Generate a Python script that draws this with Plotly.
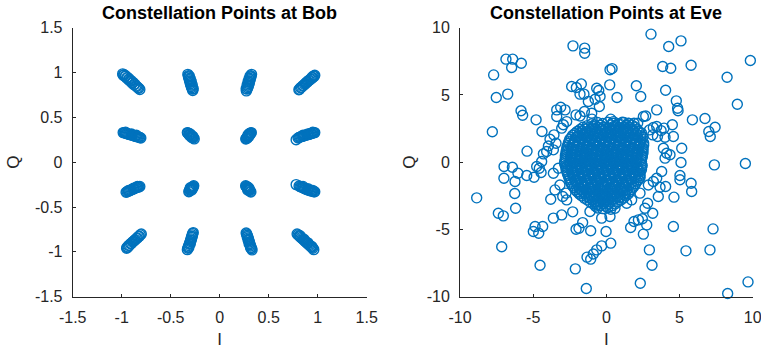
import plotly.graph_objects as go

# ---------------- Bob constellation (I, Q) ----------------
bob_points = [
    # top-left streak
    (-0.99,0.985),(-0.985,0.97),(-0.975,0.975),(-0.965,0.955),(-0.96,0.965),(-0.95,0.94),(-0.94,0.945),
    (-0.93,0.92),(-0.925,0.93),(-0.915,0.905),(-0.905,0.91),(-0.895,0.885),(-0.885,0.89),(-0.875,0.865),
    (-0.865,0.87),(-0.855,0.85),(-0.845,0.845),(-0.835,0.83),(-0.825,0.825),(-0.815,0.81),
    # top, second column
    (-0.325,0.98),(-0.32,0.965),(-0.318,0.95),(-0.313,0.935),(-0.31,0.92),(-0.305,0.905),(-0.302,0.89),
    (-0.298,0.875),(-0.295,0.86),(-0.29,0.845),(-0.285,0.83),(-0.28,0.815),(-0.275,0.80),(-0.31,0.96),
    (-0.30,0.93),(-0.29,0.90),(-0.28,0.86),(-0.27,0.82),
    # top, third column
    (0.325,0.98),(0.32,0.965),(0.318,0.95),(0.313,0.935),(0.31,0.92),(0.305,0.905),(0.302,0.89),
    (0.298,0.875),(0.295,0.86),(0.29,0.845),(0.285,0.83),(0.28,0.815),(0.272,0.795),(0.31,0.96),
    (0.30,0.93),(0.29,0.90),(0.28,0.86),(0.27,0.82),
    # top-right streak
    (0.97,0.97),(0.965,0.96),(0.955,0.96),(0.95,0.945),(0.94,0.945),(0.935,0.93),(0.925,0.925),
    (0.915,0.915),(0.905,0.91),(0.895,0.895),(0.885,0.89),(0.875,0.875),(0.865,0.87),(0.855,0.855),
    (0.845,0.85),(0.835,0.835),(0.825,0.83),(0.815,0.815),(0.808,0.808),
    # second row, left streak
    (-0.985,0.33),(-0.975,0.33),(-0.965,0.325),(-0.955,0.32),(-0.945,0.32),(-0.935,0.315),(-0.925,0.31),
    (-0.915,0.31),(-0.905,0.305),(-0.895,0.30),(-0.885,0.30),(-0.875,0.295),(-0.865,0.29),(-0.855,0.29),
    (-0.845,0.285),(-0.835,0.28),(-0.825,0.28),(-0.815,0.275),(-0.805,0.27),(-0.96,0.335),(-0.90,0.315),
    (-0.85,0.30),
    # second row, inner left
    (-0.33,0.33),(-0.325,0.325),(-0.315,0.32),(-0.31,0.31),(-0.30,0.305),(-0.295,0.295),(-0.29,0.29),
    (-0.28,0.285),(-0.275,0.275),(-0.268,0.27),(-0.26,0.26),(-0.31,0.30),(-0.30,0.315),(-0.285,0.275),
    (-0.275,0.29),
    # second row, inner right
    (0.322,0.33),(0.318,0.325),(0.312,0.318),(0.305,0.31),(0.30,0.303),(0.295,0.295),(0.29,0.29),
    (0.285,0.283),(0.278,0.275),(0.272,0.265),(0.266,0.258),(0.305,0.322),(0.30,0.29),(0.283,0.27),
    (0.29,0.305),
    # second row, right streak
    (0.97,0.33),(0.96,0.33),(0.95,0.325),(0.94,0.32),(0.93,0.32),(0.92,0.315),(0.91,0.31),(0.90,0.31),
    (0.89,0.305),(0.88,0.30),(0.87,0.30),(0.86,0.295),(0.85,0.29),(0.84,0.29),(0.83,0.285),(0.82,0.28),
    (0.81,0.275),(0.80,0.27),(0.78,0.25),(0.95,0.335),(0.90,0.315),(0.85,0.30),
    # third row, left streak
    (-0.955,-0.335),(-0.945,-0.33),(-0.935,-0.325),(-0.925,-0.32),(-0.915,-0.315),(-0.905,-0.31),
    (-0.895,-0.305),(-0.885,-0.30),(-0.875,-0.295),(-0.865,-0.29),(-0.855,-0.285),(-0.845,-0.28),
    (-0.835,-0.28),(-0.825,-0.275),(-0.815,-0.27),(-0.93,-0.315),(-0.88,-0.29),(-0.84,-0.27),
    # third row, inner left
    (-0.315,-0.33),(-0.31,-0.32),(-0.305,-0.31),(-0.30,-0.305),(-0.295,-0.30),(-0.29,-0.29),(-0.285,-0.285),
    (-0.28,-0.28),(-0.275,-0.275),(-0.27,-0.27),(-0.265,-0.262),(-0.30,-0.285),(-0.285,-0.31),(-0.275,-0.29),
    # third row, inner right
    (0.265,-0.262),(0.27,-0.27),(0.275,-0.275),(0.28,-0.28),(0.285,-0.29),(0.29,-0.295),(0.295,-0.30),
    (0.30,-0.31),(0.305,-0.315),(0.312,-0.325),(0.318,-0.332),(0.29,-0.28),(0.30,-0.295),(0.285,-0.31),
    # third row, right streak
    (0.78,-0.25),(0.81,-0.265),(0.82,-0.27),(0.83,-0.275),(0.84,-0.28),(0.85,-0.285),(0.86,-0.29),
    (0.87,-0.295),(0.88,-0.30),(0.89,-0.305),(0.90,-0.31),(0.91,-0.31),(0.92,-0.315),(0.93,-0.32),
    (0.94,-0.32),(0.95,-0.325),(0.96,-0.33),(0.97,-0.33),(0.85,-0.27),(0.90,-0.295),(0.95,-0.315),
    # bottom-left streak
    (-0.95,-0.96),(-0.945,-0.95),(-0.935,-0.945),(-0.93,-0.93),(-0.92,-0.925),(-0.91,-0.91),(-0.90,-0.905),
    (-0.89,-0.89),(-0.88,-0.885),(-0.87,-0.87),(-0.86,-0.865),(-0.85,-0.85),(-0.84,-0.845),(-0.83,-0.83),
    (-0.82,-0.825),(-0.81,-0.81),(-0.80,-0.80),
    # bottom, second column
    (-0.33,-0.975),(-0.325,-0.96),(-0.32,-0.945),(-0.315,-0.93),(-0.31,-0.915),(-0.305,-0.90),(-0.30,-0.885),
    (-0.296,-0.87),(-0.292,-0.855),(-0.288,-0.84),(-0.284,-0.825),(-0.28,-0.81),(-0.275,-0.795),
    (-0.27,-0.785),(-0.315,-0.95),(-0.30,-0.91),(-0.29,-0.87),(-0.28,-0.83),
    # bottom, third column
    (0.27,-0.79),(0.275,-0.80),(0.28,-0.815),(0.285,-0.83),(0.29,-0.845),(0.294,-0.86),(0.298,-0.875),
    (0.302,-0.89),(0.306,-0.905),(0.31,-0.92),(0.315,-0.935),(0.32,-0.95),(0.325,-0.965),(0.33,-0.978),
    (0.28,-0.83),(0.29,-0.87),(0.30,-0.91),(0.315,-0.955),
    # bottom-right streak
    (0.79,-0.80),(0.80,-0.81),(0.81,-0.82),(0.82,-0.83),(0.83,-0.84),(0.84,-0.85),(0.85,-0.86),
    (0.86,-0.87),(0.87,-0.88),(0.88,-0.89),(0.89,-0.90),(0.90,-0.91),(0.91,-0.92),(0.92,-0.93),
    (0.93,-0.94),(0.94,-0.95),(0.95,-0.96),(0.96,-0.975),(0.82,-0.82),(0.86,-0.86),(0.90,-0.90),(0.94,-0.94),
]
bob_i = [p[0] for p in bob_points]
bob_q = [p[1] for p in bob_points]

# ---------------- Eve constellation: dense core ----------------
eve_core = [
    (-1.0,2.85),(-0.6,2.95),(-0.25,2.88),(0.1,2.97),(0.45,2.9),(0.8,2.86),(1.2,2.95),(1.55,2.88),
    (-1.6,2.6),(-1.25,2.55),(-0.9,2.65),(-0.55,2.58),(-0.2,2.62),(0.15,2.55),(0.5,2.66),(0.85,2.57),(1.2,2.63),(1.6,2.56),(1.95,2.62),
    (-2.0,2.28),(-1.65,2.33),(-1.3,2.26),(-0.95,2.35),(-0.6,2.27),(-0.25,2.32),(0.1,2.25),(0.45,2.34),(0.8,2.29),(1.15,2.36),(1.5,2.27),(1.85,2.33),(2.2,2.28),
    (-2.3,2.0),(-1.95,1.95),(-1.6,2.05),(-1.25,1.97),(-0.9,2.03),(-0.55,1.96),(-0.2,2.04),(0.15,1.98),(0.5,2.02),(0.85,1.95),(1.2,2.05),(1.55,1.99),(1.9,2.03),(2.35,1.97),
    (-2.5,1.7),(-2.15,1.66),(-1.8,1.74),(-1.45,1.68),(-1.1,1.73),(-0.75,1.65),(-0.4,1.72),(-0.05,1.67),(0.3,1.75),(0.65,1.68),(1.0,1.72),(1.35,1.65),(1.7,1.74),(2.05,1.68),(2.45,1.71),
    (-2.6,1.4),(-2.25,1.44),(-1.9,1.37),(-1.55,1.43),(-1.2,1.36),(-0.85,1.42),(-0.5,1.38),(-0.15,1.45),(0.2,1.37),(0.55,1.43),(0.9,1.36),(1.25,1.42),(1.6,1.38),(1.95,1.44),(2.3,1.37),(2.55,1.42),
    (-2.7,1.1),(-2.35,1.06),(-2.0,1.13),(-1.65,1.07),(-1.3,1.12),(-0.95,1.05),(-0.6,1.14),(-0.25,1.08),(0.1,1.12),(0.45,1.05),(0.8,1.13),(1.15,1.07),(1.5,1.12),(1.85,1.06),(2.2,1.13),(2.5,1.08),
    (-2.75,0.8),(-2.4,0.84),(-2.05,0.77),(-1.7,0.83),(-1.35,0.76),(-1.0,0.82),(-0.65,0.78),(-0.3,0.85),(0.05,0.77),(0.4,0.83),(0.75,0.76),(1.1,0.84),(1.45,0.78),(1.8,0.82),(2.15,0.77),(2.5,0.83),
    (-2.8,0.5),(-2.45,0.46),(-2.1,0.53),(-1.75,0.47),(-1.4,0.52),(-1.05,0.45),(-0.7,0.54),(-0.35,0.48),(0.0,0.52),(0.35,0.45),(0.7,0.53),(1.05,0.47),(1.4,0.52),(1.75,0.46),(2.1,0.53),(2.45,0.48),
    (-2.8,0.2),(-2.45,0.24),(-2.1,0.17),(-1.75,0.23),(-1.4,0.16),(-1.05,0.22),(-0.7,0.18),(-0.35,0.25),(0.0,0.17),(0.35,0.23),(0.7,0.16),(1.05,0.24),(1.4,0.18),(1.75,0.22),(2.1,0.17),(2.4,0.23),
    (-2.85,-0.1),(-2.5,-0.14),(-2.15,-0.07),(-1.8,-0.13),(-1.45,-0.06),(-1.1,-0.12),(-0.75,-0.08),(-0.4,-0.15),(-0.05,-0.07),(0.3,-0.13),(0.65,-0.06),(1.0,-0.14),(1.35,-0.08),(1.7,-0.12),(2.05,-0.07),(2.4,-0.13),
    (-2.75,-0.4),(-2.4,-0.36),(-2.05,-0.43),(-1.7,-0.37),(-1.35,-0.42),(-1.0,-0.35),(-0.65,-0.44),(-0.3,-0.38),(0.05,-0.42),(0.4,-0.35),(0.75,-0.43),(1.1,-0.37),(1.45,-0.42),(1.8,-0.36),(2.15,-0.43),(2.4,-0.38),
    (-2.7,-0.7),(-2.35,-0.74),(-2.0,-0.67),(-1.65,-0.73),(-1.3,-0.66),(-0.95,-0.72),(-0.6,-0.68),(-0.25,-0.75),(0.1,-0.67),(0.45,-0.73),(0.8,-0.66),(1.15,-0.74),(1.5,-0.68),(1.85,-0.72),(2.3,-0.69),
    (-2.6,-1.0),(-2.25,-0.96),(-1.9,-1.03),(-1.55,-0.97),(-1.2,-1.02),(-0.85,-0.95),(-0.5,-1.04),(-0.15,-0.98),(0.2,-1.02),(0.55,-0.95),(0.9,-1.03),(1.25,-0.97),(1.6,-1.02),(1.95,-0.96),(2.3,-1.01),
    (-2.5,-1.3),(-2.15,-1.34),(-1.8,-1.27),(-1.45,-1.33),(-1.1,-1.26),(-0.75,-1.32),(-0.4,-1.28),(-0.05,-1.35),(0.3,-1.27),(0.65,-1.33),(1.0,-1.26),(1.35,-1.34),(1.7,-1.28),(2.2,-1.31),
    (-2.4,-1.6),(-2.05,-1.56),(-1.7,-1.63),(-1.35,-1.57),(-1.0,-1.62),(-0.65,-1.55),(-0.3,-1.64),(0.05,-1.58),(0.4,-1.62),(0.75,-1.55),(1.1,-1.63),(1.45,-1.57),(2.0,-1.6),
    (-2.2,-1.9),(-1.85,-1.94),(-1.5,-1.87),(-1.15,-1.93),(-0.8,-1.86),(-0.45,-1.92),(-0.1,-1.88),(0.25,-1.95),(0.6,-1.87),(0.95,-1.93),(1.3,-1.86),(1.8,-1.91),
    (-2.0,-2.2),(-1.65,-2.16),(-1.3,-2.23),(-0.95,-2.17),(-0.6,-2.22),(-0.25,-2.15),(0.1,-2.24),(0.45,-2.18),(0.8,-2.22),(1.15,-2.16),(1.6,-2.21),
    (-1.7,-2.5),(-1.35,-2.54),(-1.0,-2.47),(-0.65,-2.53),(-0.3,-2.46),(0.05,-2.52),(0.4,-2.48),(0.75,-2.55),(1.3,-2.5),
    (-1.3,-2.8),(-0.95,-2.76),(-0.6,-2.83),(-0.25,-2.77),(0.1,-2.82),(0.45,-2.75),(1.0,-2.8),
    (-0.9,-3.1),(-0.55,-3.14),(-0.2,-3.07),(0.15,-3.13),(0.6,-3.1),
    (-0.6,-3.4),(-0.25,-3.45),(0.1,-3.38),(0.3,-3.5),
]
eve_core_extra = [
    (-1.3,2.72),(-0.8,2.78),(-0.4,2.74),(0.3,2.77),(0.65,2.73),(1.0,2.79),(1.4,2.74),(1.75,2.76),
    (-1.8,2.43),(-1.45,2.47),(-1.1,2.42),(-0.75,2.48),(-0.4,2.44),(-0.05,2.47),(0.3,2.42),(0.65,2.48),(1.0,2.43),(1.35,2.47),(1.75,2.44),(2.1,2.46),
    (-2.15,2.13),(-1.8,2.17),(-1.45,2.12),(-1.1,2.18),(-0.75,2.14),(-0.4,2.16),(-0.05,2.12),(0.3,2.18),(0.65,2.13),(1.0,2.17),(1.35,2.14),(1.7,2.16),(2.05,2.12),(2.4,2.17),
    (-2.4,1.83),(-2.05,1.87),(-1.7,1.82),(-1.35,1.88),(-1.0,1.84),(-0.65,1.86),(-0.3,1.82),(0.05,1.88),(0.4,1.83),(0.75,1.87),(1.1,1.84),(1.45,1.86),(1.8,1.82),(2.15,1.88),(2.5,1.85),
    (-2.55,1.53),(-2.2,1.57),(-1.85,1.52),(-1.5,1.58),(-1.15,1.54),(-0.8,1.56),(-0.45,1.52),(-0.1,1.58),(0.25,1.53),(0.6,1.57),(0.95,1.54),(1.3,1.56),(1.65,1.52),(2.0,1.58),(2.35,1.54),
    (-2.65,1.23),(-2.3,1.27),(-1.95,1.22),(-1.6,1.28),(-1.25,1.24),(-0.9,1.26),(-0.55,1.22),(-0.2,1.28),(0.15,1.23),(0.5,1.27),(0.85,1.24),(1.2,1.26),(1.55,1.22),(1.9,1.28),(2.25,1.24),(2.55,1.26),
    (-2.7,0.93),(-2.35,0.97),(-2.0,0.92),(-1.65,0.98),(-1.3,0.94),(-0.95,0.96),(-0.6,0.92),(-0.25,0.98),(0.1,0.93),(0.45,0.97),(0.8,0.94),(1.15,0.96),(1.5,0.92),(1.85,0.98),(2.2,0.94),(2.5,0.96),
    (-2.75,0.63),(-2.4,0.67),(-2.05,0.62),(-1.7,0.68),(-1.35,0.64),(-1.0,0.66),(-0.65,0.62),(-0.3,0.68),(0.05,0.63),(0.4,0.67),(0.75,0.64),(1.1,0.66),(1.45,0.62),(1.8,0.68),(2.15,0.64),(2.5,0.66),
    (-2.8,0.33),(-2.45,0.37),(-2.1,0.32),(-1.75,0.38),(-1.4,0.34),(-1.05,0.36),(-0.7,0.32),(-0.35,0.38),(0.0,0.33),(0.35,0.37),(0.7,0.34),(1.05,0.36),(1.4,0.32),(1.75,0.38),(2.1,0.34),(2.45,0.36),
    (-2.85,0.03),(-2.5,0.07),(-2.15,0.02),(-1.8,0.08),(-1.45,0.04),(-1.1,0.06),(-0.75,0.02),(-0.4,0.08),(-0.05,0.03),(0.3,0.07),(0.65,0.04),(1.0,0.06),(1.35,0.02),(1.7,0.08),(2.05,0.04),(2.4,0.06),
    (-2.8,-0.27),(-2.45,-0.23),(-2.1,-0.28),(-1.75,-0.22),(-1.4,-0.26),(-1.05,-0.24),(-0.7,-0.28),(-0.35,-0.22),(0.0,-0.27),(0.35,-0.23),(0.7,-0.26),(1.05,-0.24),(1.4,-0.28),(1.75,-0.22),(2.1,-0.26),(2.45,-0.24),
    (-2.75,-0.57),(-2.4,-0.53),(-2.05,-0.58),(-1.7,-0.52),(-1.35,-0.56),(-1.0,-0.54),(-0.65,-0.58),(-0.3,-0.52),(0.05,-0.57),(0.4,-0.53),(0.75,-0.56),(1.1,-0.54),(1.45,-0.58),(1.8,-0.52),(2.15,-0.56),(2.4,-0.54),
    (-2.65,-0.87),(-2.3,-0.83),(-1.95,-0.88),(-1.6,-0.82),(-1.25,-0.86),(-0.9,-0.84),(-0.55,-0.88),(-0.2,-0.82),(0.15,-0.87),(0.5,-0.83),(0.85,-0.86),(1.2,-0.84),(1.55,-0.88),(1.9,-0.82),(2.3,-0.86),
    (-2.55,-1.17),(-2.2,-1.13),(-1.85,-1.18),(-1.5,-1.12),(-1.15,-1.16),(-0.8,-1.14),(-0.45,-1.18),(-0.1,-1.12),(0.25,-1.17),(0.6,-1.13),(0.95,-1.16),(1.3,-1.14),(1.65,-1.18),(2.0,-1.12),(2.3,-1.16),
    (-2.45,-1.47),(-2.1,-1.43),(-1.75,-1.48),(-1.4,-1.42),(-1.05,-1.46),(-0.7,-1.44),(-0.35,-1.48),(0.0,-1.42),(0.35,-1.47),(0.7,-1.43),(1.05,-1.46),(1.4,-1.44),(1.75,-1.48),(2.1,-1.42),
    (-2.3,-1.77),(-1.95,-1.73),(-1.6,-1.78),(-1.25,-1.72),(-0.9,-1.76),(-0.55,-1.74),(-0.2,-1.78),(0.15,-1.72),(0.5,-1.77),(0.85,-1.73),(1.2,-1.76),(1.55,-1.74),(1.9,-1.78),
    (-2.1,-2.07),(-1.75,-2.03),(-1.4,-2.08),(-1.05,-2.02),(-0.7,-2.06),(-0.35,-2.04),(0.0,-2.08),(0.35,-2.02),(0.7,-2.07),(1.05,-2.03),(1.4,-2.06),(1.7,-2.04),
    (-1.85,-2.37),(-1.5,-2.33),(-1.15,-2.38),(-0.8,-2.32),(-0.45,-2.36),(-0.1,-2.34),(0.25,-2.38),(0.6,-2.32),(0.95,-2.37),(1.3,-2.33),(1.5,-2.36),
    (-1.5,-2.67),(-1.15,-2.63),(-0.8,-2.68),(-0.45,-2.62),(-0.1,-2.66),(0.25,-2.64),(0.6,-2.68),(0.95,-2.62),(1.2,-2.66),
    (-1.1,-2.97),(-0.75,-2.93),(-0.4,-2.98),(-0.05,-2.92),(0.3,-2.96),(0.8,-2.94),
    (-0.75,-3.27),(-0.4,-3.23),(-0.05,-3.28),(0.4,-3.24),
]
# ---------------- Eve constellation: scattered outer points ----------------
eve_outer = [
    (3.05,9.52),(5.1,9.02),(4.26,8.6),(-2.28,8.65),(-1.48,8.48),(-1.48,8.1),(-6.86,7.66),(-6.4,7.66),
    (-6.47,7.04),(-5.81,7.36),(-7.7,6.49),(-7.52,4.81),(-6.74,5.06),(-5.83,3.82),(-5.72,3.49),(-4.8,3.15),
    (-7.79,2.26),(-5.42,0.82),(-4.4,2.28),(9.84,7.56),(8.25,6.32),(8.95,4.31),(5.79,7.21),(3.85,7.11),
    (4.4,6.99),(4.05,5.35),(0.25,6.87),(0.39,6.96),(0.23,5.75),(0.73,4.81),(2.05,5.68),(2.35,4.88),
    (4.78,4.56),(4.87,4.01),(4.9,3.82),(3.44,3.89),(5.88,3.15),(6.74,3.25),(7.43,2.6),(7.0,2.28),
    (7.1,1.91),(4.51,2.78),(4.58,1.91),(5.15,1.04),(5.1,-0.02),(7.38,-0.2),(9.5,-0.1),(5.03,-0.99),
    (5.03,-1.31),(5.79,-1.56),(5.83,-2.18),(4.62,-2.6),(3.55,-2.55),(3.17,-3.79),(4.58,-4.78),(7.29,-4.96),
    (7.08,-6.52),(5.44,-6.59),(2.94,-6.52),(3.12,-7.66),(2.32,-9.0),(9.68,-8.9),(8.29,-9.76),(-1.37,-9.39),
    (-2.12,-7.93),(-4.53,-7.66),(-7.15,-6.29),(-7.38,-3.79),(-7.04,-3.99),(-8.86,-2.65),(-6.26,-2.33),
    (-6.2,-3.42),(-6.99,-0.32),(-7.0,-1.19),(-6.42,-0.37),(-6.24,-1.44),(-6.04,-0.82),(-5.44,-0.99),
    (-4.94,-1.12),(-4.99,-5.15),(-4.35,-4.78),(-4.62,-5.28),(-4.87,-4.78),(-3.62,-4.16),(-3.05,-3.92),
    (-3.8,-2.75),(-2.3,-3.69),(-2.07,-4.98),(-1.87,-4.91),(-1.62,-4.49),(-1.07,-5.1),(-1.32,-7.06),
    (-1.07,-7.21),(-0.89,-6.82),(-0.66,-6.52),(-0.32,-6.22),(0.3,-6.02),(-0.02,-5.15),(1.66,-4.86),
    (1.89,-4.41),(2.19,-4.29),(2.46,-4.21),(2.53,-5.35),(2.76,-4.66),(2.64,-3.42),(2.82,-3.05),
    (3.67,-1.86),(4.05,-1.81),(3.78,-0.69),
    (-2.37,5.63),(-2.05,5.55),(-1.71,5.82),(-1.8,5.06),(-1.53,5.06),(-0.66,5.5),(-0.52,5.33),(-0.43,4.88),
    (-0.77,4.68),(-1.23,4.51),(-0.48,4.14),(-3.39,3.89),(-3.12,4.09),(-2.82,3.89),(-3.39,3.4),(-2.07,3.52),
    (-1.8,3.44),(-1.5,3.77),(-1.0,3.64),(-0.98,3.2),(0.3,3.2),(0.48,3.02),(2.53,3.4),(2.69,3.44),
    (2.14,2.9),(1.89,2.9),(1.5,2.9),(1.09,2.97),(2.94,2.4),(3.21,2.58),(3.44,2.65),(3.74,2.35),
    (3.94,2.53),(3.17,2.03),(3.49,1.91),(4.01,1.86),(3.9,1.04),(4.12,0.67),(4.35,0.55),(4.01,0.3),
    (-2.94,2.78),(-3.05,2.53),(-2.71,3.02),(-3.58,2.03),(-3.85,1.71),(-3.44,1.41),(-3.96,1.21),(-4.3,0.62),
    (-4.08,0.79),(-3.62,0.92),(-4.42,0.05),(-4.58,-0.45),(-4.46,-0.77),(-4.76,-0.32),(-3.62,-0.82),
    (-3.28,-0.45),(-3.17,-1.69),(-3.51,-2.06),(-2.76,-2.3),(-2.71,-2.8),(-2.98,-2.55),(-1.8,-2.3),
    (-1.12,-3.67),(-0.66,-3.17),(-0.32,-4.16),(0.25,-4.04),(0.59,-3.42),(1.39,-3.05),(1.73,-2.8),
    (2.3,-2.3),(2.87,-1.69),(3.21,-1.44),(3.44,-1.19),
]
eve_all = eve_core + eve_core_extra + eve_outer
eve_i = [p[0] for p in eve_all]
eve_q = [p[1] for p in eve_all]

bob_ticks = [-1.5, -1, -0.5, 0, 0.5, 1, 1.5]
bob_tick_text = ["-1.5", "-1", "-0.5", "0", "0.5", "1", "1.5"]
eve_ticks = [-10, -5, 0, 5, 10]
eve_tick_text = ["-10", "-5", "0", "5", "10"]

titles = ["Constellation Points at Bob", "Constellation Points at Eve"]

BLUE = "#0072BD"
AXC = "#262626"
FONT = "Liberation Sans, Arial, Helvetica, sans-serif"

marker = dict(symbol="circle-open", size=10, color=BLUE, line=dict(width=1.4, color=BLUE))

fig = go.Figure()
fig.add_trace(go.Scatter(x=bob_i, y=bob_q, mode="markers", marker=marker, xaxis="x", yaxis="y",
                         showlegend=False, hoverinfo="skip", cliponaxis=False))
fig.add_trace(go.Scatter(x=eve_i, y=eve_q, mode="markers", marker=marker, xaxis="x2", yaxis="y2",
                         showlegend=False, hoverinfo="skip", cliponaxis=False))

ax_common = dict(showline=True, linecolor=AXC, linewidth=1, ticks="inside", ticklen=3,
                 tickcolor=AXC, tickwidth=1, showgrid=False, zeroline=False, mirror=False,
                 automargin=False, ticklabeloverflow="allow",
                 tickfont=dict(family=FONT, size=16, color=AXC))

yd = [1 - 296.7 / 352, 1 - 27.7 / 352]
x1d = [72.7 / 761, 366.7 / 761]
x2d = [460 / 761, 752.7 / 761]

tfont = dict(family=FONT, size=17, color=AXC)

fig.update_layout(
    width=761, height=352,
    margin=dict(l=0, r=0, t=0, b=0, autoexpand=False),
    paper_bgcolor="white", plot_bgcolor="white",
    hovermode=False,
    xaxis=dict(domain=x1d, range=[-1.5, 1.5], tickvals=bob_ticks, ticktext=bob_tick_text,
               anchor="y", ticklabelstandoff=6, title=dict(text="I", font=tfont, standoff=8), **ax_common),
    yaxis=dict(domain=yd, range=[-1.5, 1.5], tickvals=bob_ticks, ticktext=bob_tick_text,
               anchor="x", ticklabelstandoff=6, title=dict(text="Q", font=tfont, standoff=10), **ax_common),
    xaxis2=dict(domain=x2d, range=[-10, 10], tickvals=eve_ticks, ticktext=eve_tick_text,
                anchor="y2", ticklabelstandoff=6, title=dict(text="I", font=tfont, standoff=8), **ax_common),
    yaxis2=dict(domain=yd, range=[-10, 10], tickvals=eve_ticks, ticktext=eve_tick_text,
                anchor="x2", ticklabelstandoff=6, title=dict(text="Q", font=tfont, standoff=6), **ax_common),
    annotations=[
        dict(text="<b>%s</b>" % titles[0], x=(x1d[0] + x1d[1]) / 2, y=1 - 13 / 352, xref="paper", yref="paper",
             showarrow=False, xanchor="center", yanchor="middle", font=dict(family=FONT, size=18, color="black")),
        dict(text="<b>%s</b>" % titles[1], x=(x2d[0] + x2d[1]) / 2, y=1 - 13 / 352, xref="paper", yref="paper",
             showarrow=False, xanchor="center", yanchor="middle", font=dict(family=FONT, size=18, color="black")),
    ],
)

fig.write_html("out.html", config={"displayModeBar": False, "staticPlot": True},
               post_script="document.body.style.margin='0';document.body.style.padding='0';")
